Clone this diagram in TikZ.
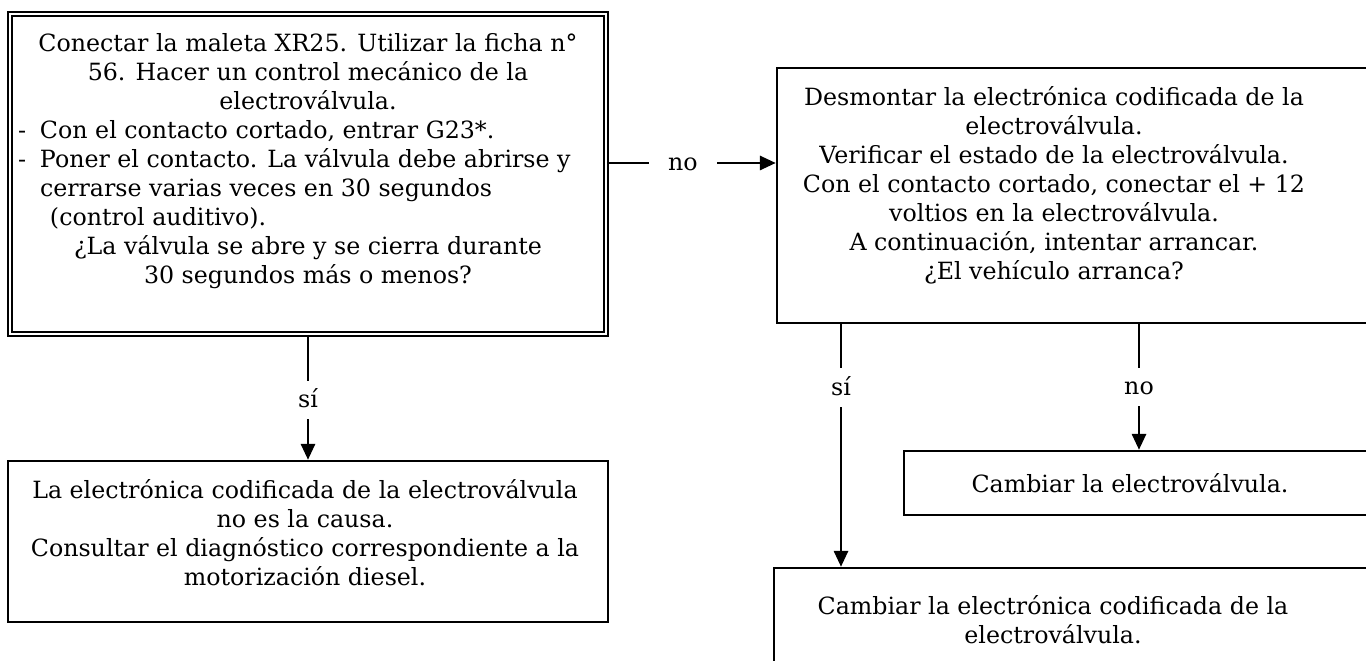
\documentclass[tikz,border=0pt]{standalone}
\usepackage{fontspec}
\setmainfont{DejaVu Serif}
\usetikzlibrary{arrows.meta}
\newlength\pxu
\setlength\pxu{0.02cm}
\newcommand{\diagfont}{\fontsize{13.5pt}{16.5pt}\selectfont}

\tikzset{
  panel/.style={draw, rectangle, line width=1.4pt, inner sep=0pt},
  dblpanel/.style={panel, double, line width=1.1pt, double distance=1.1pt},
  txtbase/.style={font=\diagfont, inner sep=0pt},
  txt/.style={txtbase, align=center},
  flow/.style={line width=1.4pt, -{Triangle[length=9pt,width=8pt]}},
  gap/.style={font=\diagfont, fill=white, text height=10pt, text depth=1pt,
    inner ysep=5.5pt, inner xsep=11pt}
}

\begin{document}
\begin{tikzpicture}[x=0.02cm, y=-0.02cm]
  \useasboundingbox (0,0) rectangle (1366,661);
  \clip (0,0) rectangle (1366,661);

  % boxes
  \node[dblpanel, minimum width=596\pxu, minimum height=320\pxu] (ctrl) at (308,174) {};
  \node[panel, minimum width=643\pxu, minimum height=255\pxu] (dism) at (1098.5,195.5) {};
  \node[panel, minimum width=600\pxu, minimum height=161\pxu] (ok) at (308,541.5) {};
  \node[panel, minimum width=516\pxu, minimum height=64\pxu] (chg) at (1162,483) {};
  \node[panel, minimum width=646\pxu, minimum height=132\pxu] (br) at (1097,634) {};

  % texts
  \node[txtbase] (ctrltxt) at (308,161) {\begin{minipage}{580\pxu}
    \setlength{\parskip}{0pt}%
    {\centering Conectar la maleta XR25. Utilizar la ficha n°\\
     56. Hacer un control mecánico de la\\
     electroválvula.\par}
    \makebox[22\pxu][l]{-}Con el contacto cortado, entrar G23*.\\
    \makebox[22\pxu][l]{-}Poner el contacto. La válvula debe abrirse y\\
    \hspace*{22\pxu}cerrarse varias veces en 30 segundos\\
    \hspace*{32\pxu}(control auditivo).\par
    {\centering ¿La válvula se abre y se cierra durante\\
     30 segundos más o menos?\par}
  \end{minipage}};
  \node[txt] (dismtxt) at (1054,185) {Desmontar la electrónica codificada de la\\
    electroválvula.\\ Verificar el estado de la electroválvula.\\
    Con el contacto cortado, conectar el + 12\\ voltios en la electroválvula.\\
    A continuación, intentar arrancar.\\ ¿El vehículo arranca?};
  \node[txt] (oktxt) at (305,533) {La electrónica codificada de la electroválvula\\
    no es la causa.\\ Consultar el diagnóstico correspondiente a la\\
    motorización diesel.};
  \node[txt] (chgtxt) at (1130,483) {Cambiar la electroválvula.};
  \node[txt] (brtxt) at (1053,620) {Cambiar la electrónica codificada de la\\
    electroválvula.};

  % connectors
  \coordinate (rowno) at (0,163);
  \coordinate (colsi) at (841,0);
  \coordinate (colno) at (1139,0);
  \draw[flow] (ctrl.east |- rowno) -- node[gap, pos=0.45] {no} (dism.west |- rowno);
  \draw[flow] (ctrl.south) -- node[gap, pos=0.52] {sí} (ok.north);
  \draw[flow] (colsi |- dism.south) -- node[gap, pos=0.26] {sí} (colsi |- br.north);
  \draw[flow] (colno |- dism.south) -- node[gap] {no} (colno |- chg.north);
\end{tikzpicture}
\end{document}
